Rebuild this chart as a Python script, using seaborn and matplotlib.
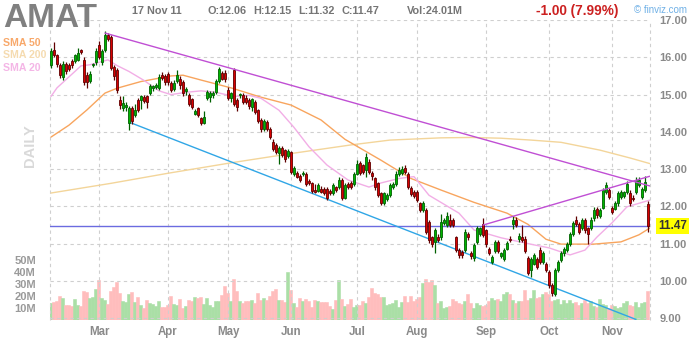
import numpy as np
import pandas as pd
import matplotlib
matplotlib.use("Agg")
import matplotlib.pyplot as plt
import seaborn as sns

# ---------------- data ----------------
ticker = "AMAT"
month_labels = ["Mar", "Apr", "May", "Jun", "Jul", "Aug", "Sep", "Oct", "Nov"]
month_pos = [16, 39, 59, 80, 102, 122, 145, 166, 187]
price_ticks = [9, 10, 11, 12, 13, 14, 15, 16, 17]
vol_ticks = [10, 20, 30, 40, 50]
vol_labels = ["10M", "20M", "30M", "40M", "50M"]
last_price = 11.47

opens = [
    15.80, 16.20, 16.05, 15.80, 15.47, 15.82, 15.80, 15.90, 15.89, 15.94,
    16.19, 15.93, 15.53, 15.37, 15.79, 15.87, 16.32, 15.87, 16.20, 16.60,
    16.55, 15.73, 15.66, 14.86, 14.64, 14.66, 14.24, 14.64, 14.44, 14.86,
    14.86, 14.93, 14.95, 15.04, 15.17, 15.19, 15.17, 15.53, 15.49, 15.55,
    15.31, 15.14, 15.37, 15.43, 15.34, 15.10, 14.99, 14.87, 14.49, 14.63,
    14.36, 14.23, 14.90, 14.93, 14.98, 15.08, 15.37, 15.57, 15.57, 15.12,
    14.90, 15.66, 14.85, 14.98, 15.00, 14.92, 14.85, 14.67, 14.81, 14.58,
    14.32, 14.07, 14.27, 14.09, 13.73, 13.64, 13.44, 13.58, 13.51, 13.35,
    13.45, 12.88, 12.90, 12.81, 12.87, 12.87, 12.69, 12.62, 12.45, 12.42,
    12.48, 12.48, 12.48, 12.42, 12.35, 12.51, 12.53, 12.72, 12.24, 12.60,
    12.63, 12.60, 12.88, 13.17, 13.11, 12.99, 13.20, 12.90, 12.75, 12.62,
    12.35, 12.08, 12.20, 12.30, 12.53, 12.60, 12.88, 12.90, 13.02, 12.87,
    12.50, 12.40, 12.39, 12.08, 11.90, 11.90, 11.59, 11.18, 11.05, 11.18,
    11.17, 11.55, 11.50, 11.65, 11.63, 11.17, 10.83, 10.78, 10.83, 11.27,
    10.74, 10.63, 11.05, 11.27, 11.54, 11.36, 10.87, 10.51, 10.81, 11.05,
    10.67, 10.60, 10.87, 11.14, 11.54, 11.65, 11.14, 11.18, 11.14, 10.63,
    10.29, 10.47, 10.60, 10.82, 10.51, 10.47, 10.24, 9.89, 9.66, 10.29,
    10.56, 10.74, 10.82, 11.00, 11.27, 11.65, 11.52, 11.43, 11.63, 11.41,
    11.41, 11.68, 11.92, 11.75, 11.97, 12.39, 12.44, 11.97, 11.94, 12.08,
    12.26, 12.28, 12.39, 12.36, 12.24, 12.39, 12.57, 12.26, 12.44, 12.06,
]
highs = [
    16.25, 16.40, 16.10, 15.85, 15.90, 15.88, 15.85, 15.95, 16.10, 16.25,
    16.22, 16.00, 15.60, 15.62, 15.85, 16.25, 16.45, 16.22, 16.70, 16.65,
    16.60, 15.80, 15.70, 14.95, 14.95, 14.80, 14.70, 14.70, 14.75, 14.90,
    15.00, 15.00, 15.00, 15.28, 15.26, 15.30, 15.55, 15.60, 15.55, 15.60,
    15.36, 15.40, 15.65, 15.50, 15.40, 15.20, 15.05, 14.92, 14.62, 14.68,
    14.40, 14.55, 15.12, 15.10, 15.10, 15.42, 15.75, 15.62, 15.65, 15.20,
    15.08, 15.70, 14.92, 15.05, 15.05, 14.98, 14.90, 14.92, 14.85, 14.62,
    14.36, 14.35, 14.32, 14.12, 13.80, 13.70, 13.62, 13.62, 13.55, 13.55,
    13.50, 13.08, 12.95, 12.86, 12.95, 12.92, 12.73, 12.66, 12.60, 12.62,
    12.55, 12.52, 12.52, 12.46, 12.62, 12.55, 12.78, 12.76, 12.62, 12.65,
    12.68, 12.92, 13.25, 13.22, 13.15, 13.42, 13.28, 12.95, 12.80, 12.66,
    12.40, 12.40, 12.35, 12.62, 12.66, 12.95, 13.05, 13.08, 13.12, 12.92,
    12.55, 12.45, 12.43, 12.12, 12.15, 11.95, 11.65, 11.22, 11.42, 11.25,
    11.81, 11.70, 11.85, 11.80, 11.68, 11.22, 10.88, 10.82, 11.40, 11.32,
    10.80, 11.02, 11.48, 11.45, 11.68, 11.40, 10.92, 10.70, 11.10, 11.10,
    10.78, 10.88, 11.08, 11.20, 11.75, 11.72, 11.30, 11.50, 11.20, 10.68,
    10.65, 10.75, 10.65, 10.90, 10.80, 10.52, 10.30, 9.95, 10.35, 10.56,
    10.80, 10.90, 11.05, 11.32, 11.62, 11.75, 11.58, 11.70, 11.68, 11.45,
    11.72, 11.98, 11.98, 11.96, 12.50, 12.65, 12.50, 12.02, 12.14, 12.42,
    12.44, 12.42, 12.68, 12.45, 12.30, 12.80, 12.78, 12.52, 12.82, 12.15,
]
lows = [
    15.70, 16.00, 15.75, 15.45, 15.40, 15.55, 15.62, 15.72, 15.85, 15.90,
    16.10, 15.27, 15.17, 15.30, 15.75, 15.80, 15.95, 15.80, 16.15, 16.45,
    15.65, 15.40, 15.05, 14.60, 14.55, 14.55, 14.06, 14.20, 14.40, 14.52,
    14.62, 14.78, 14.65, 15.00, 15.10, 15.15, 15.12, 15.38, 15.25, 15.25,
    15.08, 15.10, 15.30, 15.15, 14.95, 15.00, 14.70, 14.60, 14.45, 14.40,
    14.18, 14.20, 14.85, 14.80, 14.92, 15.02, 15.30, 15.38, 15.35, 14.85,
    14.80, 14.70, 14.55, 14.90, 14.75, 14.75, 14.62, 14.55, 14.48, 14.25,
    14.00, 14.02, 14.02, 13.80, 13.50, 13.40, 13.15, 13.32, 13.20, 13.30,
    12.88, 12.82, 12.75, 12.66, 12.82, 12.55, 12.57, 12.36, 12.35, 12.38,
    12.35, 12.32, 12.18, 12.30, 12.30, 12.40, 12.48, 12.18, 12.20, 12.48,
    12.48, 12.55, 12.85, 12.85, 12.88, 12.80, 12.88, 12.72, 12.45, 12.25,
    12.05, 12.03, 12.15, 12.25, 12.48, 12.55, 12.83, 12.85, 12.88, 12.48,
    12.28, 12.22, 12.12, 11.85, 11.85, 11.25, 11.02, 10.92, 10.74, 11.05,
    11.10, 11.50, 11.45, 11.45, 11.45, 10.78, 10.62, 10.62, 10.78, 11.10,
    10.60, 10.55, 11.00, 11.22, 11.18, 10.92, 10.70, 10.46, 10.76, 10.76,
    10.62, 10.55, 10.82, 11.04, 11.40, 11.45, 11.05, 11.05, 10.76, 10.15,
    10.10, 10.42, 10.32, 10.45, 10.46, 10.24, 9.82, 9.60, 9.60, 10.24,
    10.50, 10.68, 10.78, 10.95, 11.22, 11.48, 11.25, 11.38, 11.30, 11.00,
    11.36, 11.62, 11.70, 11.70, 11.92, 12.34, 12.20, 11.80, 11.90, 12.02,
    12.20, 12.22, 12.34, 12.02, 12.14, 12.34, 12.52, 12.20, 12.38, 11.32,
]
closes = [
    16.18, 16.05, 15.82, 15.53, 15.83, 15.62, 15.68, 15.78, 16.05, 16.12,
    16.13, 15.33, 15.35, 15.55, 15.82, 16.18, 16.00, 16.18, 16.60, 16.50,
    15.71, 15.49, 15.13, 14.71, 14.77, 14.73, 14.64, 14.28, 14.59, 14.59,
    14.95, 14.83, 14.80, 15.22, 15.22, 15.25, 15.46, 15.44, 15.35, 15.35,
    15.13, 15.32, 15.52, 15.25, 15.05, 15.14, 14.76, 14.67, 14.56, 14.45,
    14.23, 14.39, 15.06, 15.03, 15.05, 15.37, 15.68, 15.43, 15.43, 14.90,
    15.03, 14.76, 14.67, 15.01, 14.81, 14.81, 14.69, 14.87, 14.54, 14.30,
    14.07, 14.30, 14.09, 13.85, 13.55, 13.46, 13.58, 13.38, 13.26, 13.49,
    12.93, 13.02, 12.80, 12.72, 12.91, 12.60, 12.62, 12.42, 12.39, 12.57,
    12.39, 12.37, 12.24, 12.35, 12.57, 12.44, 12.72, 12.24, 12.57, 12.53,
    12.53, 12.88, 13.15, 12.90, 12.93, 13.33, 12.93, 12.81, 12.51, 12.30,
    12.10, 12.35, 12.30, 12.57, 12.60, 12.88, 12.97, 13.00, 12.93, 12.53,
    12.33, 12.28, 12.17, 11.90, 12.10, 11.32, 11.09, 11.00, 11.36, 11.10,
    11.59, 11.63, 11.74, 11.50, 11.50, 10.83, 10.69, 10.69, 11.32, 11.18,
    10.67, 10.96, 11.41, 11.41, 11.23, 10.99, 10.75, 10.65, 11.05, 10.81,
    10.74, 10.83, 11.01, 11.09, 11.63, 11.50, 11.20, 11.09, 10.81, 10.22,
    10.60, 10.69, 10.38, 10.51, 10.74, 10.29, 9.89, 9.68, 10.29, 10.50,
    10.74, 10.86, 11.00, 11.27, 11.56, 11.54, 11.32, 11.63, 11.38, 11.27,
    11.65, 11.90, 11.78, 11.90, 12.44, 12.57, 12.26, 11.86, 12.08, 12.35,
    12.39, 12.38, 12.60, 12.08, 12.20, 12.72, 12.70, 12.48, 12.66, 11.47,
]
volumes = [
    14.4, 15.3, 15.8, 20.0, 18.6, 12.5, 12.5, 11.9, 17.5, 12.5,
    11.9, 24.4, 23.6, 18.6, 19.4, 26.1, 33.3, 18.6, 16.7, 13.6,
    24.4, 27.8, 31.7, 22.8, 16.1, 15.3, 21.4, 23.3, 15.0, 19.2,
    12.2, 10.0, 16.7, 14.4, 13.6, 11.9, 15.8, 10.8, 10.8, 12.5,
    20.0, 13.6, 12.5, 17.5, 10.0, 11.9, 16.7, 15.8, 19.4, 18.6,
    19.4, 13.6, 18.6, 12.5, 11.1, 15.8, 15.8, 20.8, 28.6, 22.8,
    15.8, 34.2, 24.4, 15.8, 14.4, 15.8, 15.8, 16.9, 14.4, 22.2,
    16.7, 18.6, 16.4, 20.0, 24.4, 25.8, 16.7, 16.7, 15.0, 40.0,
    25.0, 14.4, 10.8, 18.3, 15.8, 17.2, 15.8, 10.8, 16.7, 15.8,
    14.7, 15.0, 15.0, 11.9, 9.2, 16.7, 33.3, 17.5, 11.9, 13.3,
    17.5, 10.8, 12.2, 12.8, 15.8, 13.9, 18.9, 27.0, 22.2, 21.7,
    19.4, 18.9, 12.5, 13.1, 13.9, 16.7, 11.1, 15.3, 20.0, 15.3,
    20.0, 16.1, 17.2, 18.9, 31.1, 33.9, 31.9, 33.3, 29.2, 13.9,
    15.8, 9.7, 11.1, 11.7, 17.2, 15.8, 13.9, 13.3, 16.1, 21.7,
    14.4, 10.3, 13.9, 12.2, 11.9, 12.2, 15.8, 18.1, 16.7, 17.2,
    16.1, 21.4, 23.1, 21.4, 16.7, 14.4, 15.8, 16.1, 25.0, 16.7,
    18.1, 25.0, 18.1, 18.9, 21.4, 23.6, 21.7, 15.8, 16.7, 17.2,
    13.3, 16.7, 14.4, 16.7, 14.4, 15.0, 12.5, 13.9, 16.7, 13.9,
    15.8, 11.9, 11.1, 17.2, 13.1, 12.5, 10.3, 12.5, 11.7, 9.7,
    11.1, 14.4, 16.1, 12.5, 11.7, 14.7, 11.1, 13.9, 15.3, 24.0,
]

sma20_pos = [0, 2, 10, 13, 19, 22, 26, 31, 36, 40, 45, 50, 55, 61, 66, 70, 76, 81,
             86, 92, 99, 106, 110, 116, 121, 126, 136, 141, 150, 161, 166, 173,
             178, 182, 187, 192, 199.6]
sma20_val = [14.95, 15.18, 15.77, 15.80, 15.93, 15.78, 15.62, 15.38, 15.10, 15.00,
             15.06, 15.10, 15.06, 14.95, 14.98, 14.90, 14.58, 14.12, 13.60, 13.11,
             12.71, 12.52, 12.63, 12.75, 12.80, 12.30, 11.82, 11.37, 11.16, 10.97,
             10.89, 10.70, 10.83, 11.18, 11.56, 11.99, 12.17]
sma50_pos = [0, 6, 12, 18, 22, 30, 40, 44, 50, 60, 70, 80, 90, 98, 110, 120, 130,
             141, 152, 159, 165, 170, 181, 190, 196, 199.6]
sma50_val = [13.86, 14.18, 14.59, 15.04, 15.17, 15.35, 15.50, 15.52, 15.39, 15.18,
             14.93, 14.72, 14.32, 13.80, 13.24, 12.75, 12.44, 12.11, 11.82, 11.52,
             11.12, 10.99, 10.99, 11.05, 11.24, 11.42]
sma200_pos = [0, 20, 39, 60, 81, 100, 113, 130, 140, 150, 160, 170, 183, 193, 199.6]
sma200_val = [12.36, 12.62, 12.89, 13.17, 13.43, 13.65, 13.78, 13.84, 13.85, 13.83,
              13.78, 13.72, 13.51, 13.30, 13.15]

resist_pos = [18, 199.6]
resist_val = [16.65, 12.55]
rising_pos = [144, 199.6]
rising_val = [11.50, 12.81]
support_pos = [26.7, 195]
support_val = [14.24, 8.97]

# ---------------- style ----------------
sns.set_style("white")
plt.rcParams['font.family'] = ['Liberation Sans', 'DejaVu Sans']

W, H = 700, 340
fig = plt.figure(figsize=(W / 100, H / 100), dpi=100)
fig.patch.set_facecolor("white")
rect = [50 / W, 20 / H, 600 / W, 300 / H]
XL = (-0.33, 199.67)

axv = fig.add_axes(rect)
ax = fig.add_axes(rect, sharex=axv)
ax.patch.set_alpha(0)

n = len(closes)
idx = np.arange(n)
o = np.array(opens); c = np.array(closes)
h = np.array(highs); l = np.array(lows)
up = c >= o

# volume
vol_colors = np.where(up, "#aadfa6", "#ffbdbd")
axv.bar(idx, volumes, width=1.0, color=vol_colors, edgecolor=vol_colors,
        linewidth=0.4)
axv.set_ylim(0, 250)
axv.set_yticks(vol_ticks)
axv.set_yticklabels(vol_labels, fontweight="bold")
axv.tick_params(axis="y", length=6, width=0.8, color="#c8c8c8", pad=4,
                labelsize=8, labelcolor="#9a9a9a")
axv.tick_params(axis="x", bottom=False, labelbottom=False)
axv.set_xlabel(""); axv.set_ylabel("")
for s in axv.spines.values():
    s.set_visible(False)

# price panel
grid_kw = dict(color="#cfcfcf", lw=0.8, ls=(0, (3, 3)))
ax.set_ylim(8.955, 17.0)
ax.set_xlim(*XL)
ax.set_yticks(price_ticks)
ax.set_yticklabels([f"{v:.2f}" for v in price_ticks], fontweight="bold")
ax.set_xticks(month_pos)
ax.set_xticklabels(month_labels, fontweight="bold")
ax.yaxis.tick_right()
ax.tick_params(axis="y", length=0, pad=7, labelsize=8, labelcolor="#8a8a8a")
ax.tick_params(axis="x", length=0, pad=4, labelsize=8.3, labelcolor="#8a8a8a")
ax.grid(True, **grid_kw)
ax.axvline(XL[0], clip_on=False, **grid_kw)
ax.axvline(XL[1], clip_on=False, **grid_kw)
for s in ax.spines.values():
    s.set_visible(False)

# moving averages
sns.lineplot(x=sma200_pos, y=sma200_val, ax=ax, color="#f3d59a", lw=1.0, zorder=2)
sns.lineplot(x=sma50_pos, y=sma50_val, ax=ax, color="#f8a55e", lw=1.0, zorder=2)
sns.lineplot(x=sma20_pos, y=sma20_val, ax=ax, color="#f2aee6", lw=1.0, zorder=2)

# horizontal last-price line and trendlines
ax.axhline(last_price, color="#6b6be0", lw=1.0, zorder=2)
ax.plot(support_pos, support_val, color="#30a6e6", lw=1.0, zorder=2)
ax.plot(resist_pos, resist_val, color="#c04fd4", lw=1.0, zorder=5)
ax.plot(rising_pos, rising_val, color="#c04fd4", lw=1.0, zorder=5)

# candles
edge = np.where(up, "#006000", "#600000")
fill = np.where(up, "#00b400", "#d80000")
ax.vlines(idx, l, h, colors=edge, lw=0.9, zorder=3)
ax.bar(idx, c - o, bottom=o, width=0.72, color=fill, edgecolor=edge,
       linewidth=0.6, zorder=4)
ax.set_xlim(*XL)
ax.set_xlabel(""); ax.set_ylabel("")

# last price tag
ax.text(1.0 + 8 / 600, last_price, f"{last_price:.2f}", transform=ax.get_yaxis_transform(),
        ha="left", va="center", fontsize=8.5, fontweight="bold", color="#333333",
        bbox=dict(boxstyle="square,pad=0.18", fc="#ffff00", ec="none"), clip_on=False)

# header texts
def ft(x, y, s, **kw):
    fig.text(x / W, 1 - y / H, s, va="baseline", ha="left", **kw)

ft(3, 27, ticker, fontsize=24, fontweight="bold", color="#808080")
ft(132, 14, "17 Nov 11", fontsize=7.8, fontweight="bold", color="#757575")
ft(208, 14, "O:12.06", fontsize=7.8, fontweight="bold", color="#757575")
ft(253, 14, "H:12.15", fontsize=7.8, fontweight="bold", color="#757575")
ft(298, 14, "L:11.32", fontsize=7.8, fontweight="bold", color="#757575")
ft(342, 14, "C:11.47", fontsize=7.8, fontweight="bold", color="#757575")
ft(407, 14, "Vol:24.01M", fontsize=7.8, fontweight="bold", color="#757575")
ft(536, 15, "-1.00 (7.99%)", fontsize=9.8, fontweight="bold", color="#cc2020")
ft(634, 13, "© finviz.com", fontsize=7, color="#6fb0e6")
ft(3, 46, "SMA 50", fontsize=7.6, fontweight="bold", color="#f8a86a")
ft(3, 58, "SMA 200", fontsize=7.6, fontweight="bold", color="#f5dbb0")
ft(3, 71, "SMA 20", fontsize=7.6, fontweight="bold", color="#f4b6e6")
fig.text(30 / W, 1 - 146 / H, "DAILY", rotation=90, ha="center", va="center",
         fontsize=10.5, fontweight="bold", color="#d9d9d9")

fig.savefig("out.png", dpi=100, facecolor="white")
